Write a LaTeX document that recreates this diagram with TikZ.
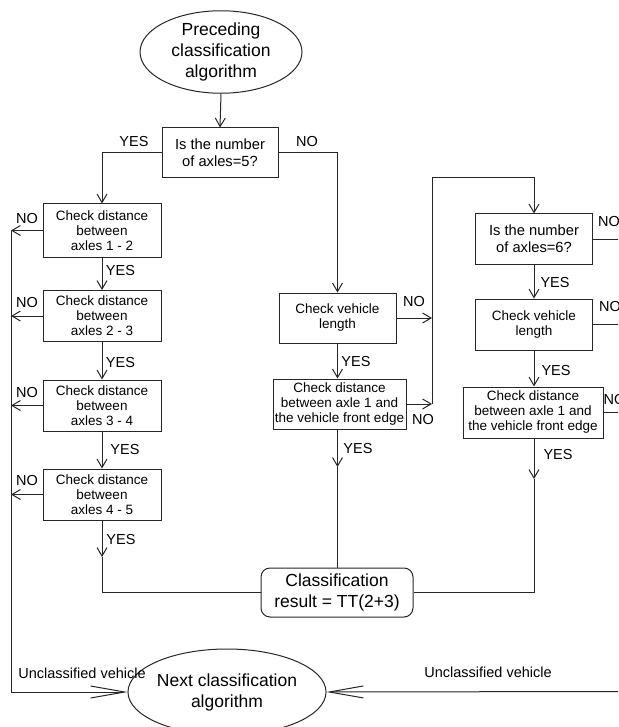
\documentclass[tikz,border=0pt]{standalone}
\usepackage{fontspec}
\setmainfont{Liberation Sans}
\usetikzlibrary{shapes.geometric,arrows.meta}
\begin{document}
\begin{tikzpicture}[x=1pt,y=-1pt,
  line/.style={draw=black!85, line width=1pt},
  arr/.style={line, -{Straight Barb[length=8.5pt,width=10pt]}},
  longarr/.style={line, -{Straight Barb[length=34pt,width=12pt]}},
  box/.style={draw=black!85, line width=1pt, rectangle, align=center, inner sep=0pt,
    font=\fontsize{13.5}{15}\selectfont, minimum height=51pt},
  qbox/.style={box, font=\fontsize{14.7}{16.7}\selectfont, minimum height=50pt},
  oval/.style={draw=black!85, line width=1pt, ellipse, align=center, inner sep=0pt,
    font=\fontsize{17.5}{21}\selectfont},
  resbox/.style={draw=black!85, line width=1pt, rectangle, rounded corners=9pt, align=center,
    inner sep=0pt, font=\fontsize{17.5}{21}\selectfont, minimum width=152pt, minimum height=49pt},
  lab/.style={font=\fontsize{14.5}{16}\selectfont, inner sep=0pt},
  small/.style={font=\fontsize{14.5}{16}\selectfont, inner sep=0pt}
]
\useasboundingbox (0,0) rectangle (618,727);
\clip (0,0) rectangle (618,727);

% nodes
\node[oval, minimum width=162pt, minimum height=78pt] (start) at (221,52) {Preceding\\classification\\algorithm};
\node[qbox, minimum width=116pt] (q5) at (220,153) {Is the number\\of axles=5?};

\node[box, minimum width=118pt, minimum height=53pt] (a1) at (102,230.5) {Check distance\\between\\axles 1 - 2};
\node[box, minimum width=118pt] (a2) at (102,316) {Check distance\\between\\axles 2 - 3};
\node[box, minimum width=118pt] (a3) at (102,405.5) {Check distance\\between\\axles 3 - 4};
\node[box, minimum width=118pt] (a4) at (102,494.5) {Check distance\\between\\axles 4 - 5};

\node[box, minimum width=117pt, minimum height=50pt] (m1) at (337.5,318) {Check vehicle\\length};
\node[box, minimum width=133pt, minimum height=50pt] (m2) at (339.5,404) {Check distance\\between axle 1 and\\the vehicle front edge};

\node[qbox, minimum width=117pt] (b1) at (534,239) {Is the number\\of axles=6?};
\node[box, minimum width=117pt] (b2) at (534,324.5) {Check vehicle\\length};
\node[box, minimum width=140pt] (b3) at (533,412.5) {Check distance\\between axle 1 and\\the vehicle front edge};

\node[resbox] (class) at (337,592.5) {Classification\\result = TT(2+3)};
\node[oval, minimum width=160pt, minimum height=86pt] (next) at (227,692) {Next classification\\algorithm};

% helper coordinates
\coordinate (bus) at (11,692);
\coordinate (jt) at (432,178);
\coordinate (edge) at (622,691.5);
\coordinate (a4end) at (102,557);
\coordinate (m2end) at (337.5,467);
\coordinate (b3end) at (534,479);

% connectors
\draw[arr] (start.south) -- (q5.north);
\draw[arr] (q5.west) -| (a1.north);
\draw[arr] (q5.east) -| (m1.north);

\draw[arr] (a1.south) -- (a2.north);
\draw[arr] (a2.south) -- (a3.north);
\draw[arr] (a3.south) -- (a4.north);
\draw[arr] (a4.south) -- (a4end);
\draw[line] (a4end) -- (a4end |- class.west) -- (class.west);

\draw[arr] (a1.west) -- (a1.west -| bus);
\draw[arr] (a2.west) -- (a2.west -| bus);
\draw[arr] (a3.west) -- (a3.west -| bus);
\draw[arr] (a4.west) -- (a4.west -| bus);
\draw[longarr] (a1.west -| bus) -- (bus) -- (next.west);

\draw[arr] (m1.south) -- (m1.south |- m2.north);
\draw[arr] (m1.south |- m2.south) -- (m2end);
\draw[line] (m2end) -- (m2end |- class.north);

\draw[arr] (m1.east) -- (m1.east -| jt);
\draw[arr] (m2.east) -- (m2.east -| jt);
\draw[arr] (m2.east -| jt) -- (jt) -| (b1.north);

\draw[arr] (b1.south) -- (b2.north);
\draw[arr] (b2.south) -- (b2.south |- b3.north);
\draw[arr] (b2.south |- b3.south) -- (b3end);
\draw[line] (b3end) -- (b3end |- class.east) -- (class.east);

\draw[line] (b1.east) -- (b1.east -| edge);
\draw[line] (b2.east) -- (b2.east -| edge);
\draw[line] (b3.east) -- (b3.east -| edge);
\draw[longarr] (edge) -- (next.east);

% labels
\node[lab] (lq5y) at (134,142) {YES};
\node[lab] (lq5n) at (307,142) {NO};
\node[lab] (la1n) at (27,219) {NO};
\node[lab] (la2n) at (27,303) {NO};
\node[lab] (la3n) at (27,393) {NO};
\node[lab] (la4n) at (27,481) {NO};
\node[lab] (la1y) at (120.5,271) {YES};
\node[lab] (la2y) at (120.5,363) {YES};
\node[lab] (la3y) at (125,450) {YES};
\node[lab] (la4y) at (121,540) {YES};
\node[lab] (lm1n) at (414,302) {NO};
\node[lab] (lm2n) at (423,420) {NO};
\node[lab] (lm1y) at (356,362) {YES};
\node[lab] (lm2y) at (358,449) {YES};
\node[lab, anchor=west] (lb1n) at (598,222) {NO};
\node[lab, anchor=west] (lb2n) at (599,307) {NO};
\node[lab, anchor=west] (lb3n) at (603.5,400) {NO};
\node[lab] (lb1y) at (555,283) {YES};
\node[lab] (lb2y) at (556,371) {YES};
\node[lab] (lb3y) at (558,455) {YES};
\node[small] (lu1) at (82,673) {Unclassified vehicle};
\node[small] (lu2) at (488,672) {Unclassified vehicle};
\end{tikzpicture}
\end{document}
